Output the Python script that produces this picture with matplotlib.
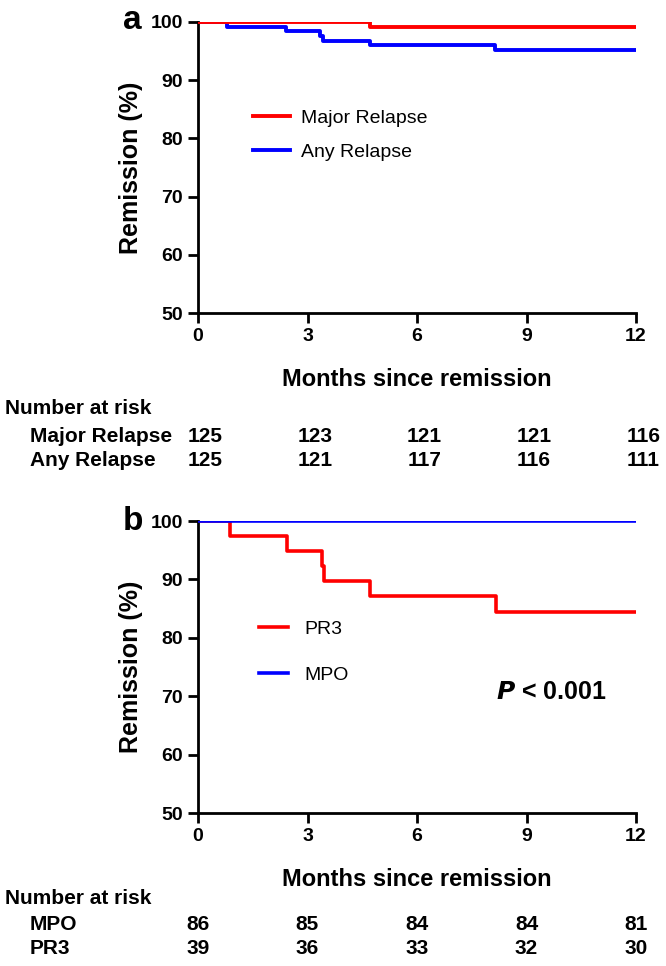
import matplotlib
matplotlib.use("Agg")
import matplotlib.pyplot as plt
from matplotlib.transforms import blended_transform_factory

plt.rcParams['font.family'] = ['Liberation Sans', 'DejaVu Sans']

# panel a
major_t = [0, 4.7, 12]
major_s = [100, 99.2, 99.2]
any_t = [0, 0.8, 2.4, 3.33, 3.42, 4.7, 8.15, 12]
any_s = [100, 99.2, 98.4, 97.6, 96.8, 96.0, 95.2, 95.2]

# panel b
pr3_t = [0, 0.88, 2.43, 3.39, 3.46, 4.71, 8.16, 12]
pr3_s = [100, 97.4, 94.9, 92.3, 89.7, 87.2, 84.4, 84.4]
mpo_t = [0, 12]
mpo_s = [100, 100]

risk_times = [0, 3, 6, 9, 12]
risk_a = {"Major Relapse": [125, 123, 121, 121, 116],
          "Any Relapse": [125, 121, 117, 116, 111]}
risk_b = {"MPO": [86, 85, 84, 84, 81],
          "PR3": [39, 36, 33, 32, 30]}

xticks = [0, 3, 6, 9, 12]
yticks = [50, 60, 70, 80, 90, 100]

W, H = 666, 966
fig = plt.figure(figsize=(W / 100, H / 100), dpi=100)


def px(y):
    return 1 - y / H


def style_axes(ax):
    ax.set_xlim(0, 12)
    ax.set_ylim(50, 100)
    ax.set_xticks(xticks)
    ax.set_yticks(yticks)
    for s in ['top', 'right']:
        ax.spines[s].set_visible(False)
    for s in ['left', 'bottom']:
        ax.spines[s].set_linewidth(2)
    ax.tick_params(width=2, length=7, direction='out', labelsize=14, pad=4)
    for lab in ax.get_xticklabels() + ax.get_yticklabels():
        lab.set_fontweight('bold')
    ax.set_ylabel("Remission (%)", fontsize=18, fontweight='bold', labelpad=5)
    ax.set_xlabel("Months since remission", fontsize=17, fontweight='bold', labelpad=16)


def risk_table(ax, rows, y_title, y_rows, shift):
    fig.text(5 / W, px(y_title), "Number at risk", fontsize=15, fontweight='bold', va='center')
    tr = blended_transform_factory(ax.transData, fig.transFigure)
    for (name, vals), yr in zip(rows.items(), y_rows):
        fig.text(30 / W, px(yr), name, fontsize=15, fontweight='bold', va='center')
        for t, v in zip(risk_times, vals):
            ax.text(t + shift, px(yr), str(v), transform=tr, fontsize=15,
                    fontweight='bold', ha='center', va='center', clip_on=False)


# ---- panel a ----
ax1 = fig.add_axes([198 / W, px(313), 438 / W, 291 / H])
ax1.plot(any_t, any_s, drawstyle='steps-post', color='#0000ff', lw=2.8, label="Any Relapse", zorder=2)
ax1.plot(major_t, major_s, drawstyle='steps-post', color='#ff0000', lw=2.8, label="Major Relapse", zorder=3)
style_axes(ax1)
h, l = ax1.get_legend_handles_labels()
ax1.legend(h[::-1], l[::-1], loc='upper left', bbox_to_anchor=(0.085, 0.76), frameon=False,
           fontsize=14, handlelength=1.9, handletextpad=0.6, labelspacing=0.85)
fig.text(123 / W, px(29), "a", fontsize=24, fontweight='bold', va='baseline')
risk_table(ax1, risk_a, 409, [436, 460], 0.2)

# ---- panel b ----
ax2 = fig.add_axes([198 / W, px(813), 438 / W, 292 / H])
ax2.plot(pr3_t, pr3_s, drawstyle='steps-post', color='#ff0000', lw=2.6, label="PR3", zorder=2)
ax2.plot(mpo_t, mpo_s, drawstyle='steps-post', color='#0000ff', lw=2.6, label="MPO", zorder=3)
style_axes(ax2)
ax2.legend(loc='upper left', bbox_to_anchor=(0.1, 0.72), frameon=False,
           fontsize=14, handlelength=1.5, handletextpad=0.8, labelspacing=1.45)
ax2.text(0.68, 0.415, r"$\bfit{P}$ < 0.001", transform=ax2.transAxes, fontsize=18,
         fontweight='bold', va='center')
fig.text(123 / W, px(530), "b", fontsize=24, fontweight='bold', va='baseline')
risk_table(ax2, risk_b, 898, [925, 949], 0.0)

fig.savefig("out.png", dpi=100)
